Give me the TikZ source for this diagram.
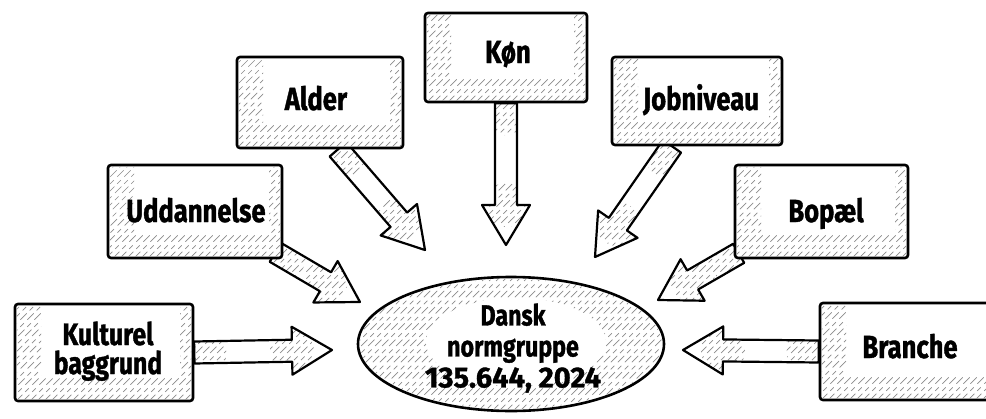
\documentclass[tikz,border=0pt]{standalone}
\usepackage{fontspec}
\setmainfont{Fira Sans}[FakeStretch=0.8, BoldFeatures={FakeBold=1.2}]
\newfontfamily\wideface{Fira Sans}[BoldFeatures={FakeBold=1.2}]
\usetikzlibrary{calc,shapes.geometric}
\pgfdeclarelayer{bg}
\pgfsetlayers{bg,main}

\tikzset{
  box/.style={rectangle, draw, fill=white, line width=2.6pt, rounded corners=3pt, inner sep=0pt},
  oval/.style={ellipse, draw, fill=white, line width=2.6pt, inner sep=0pt},
  lbl/.style={font=\bfseries\fontsize{32}{28}\selectfont, inner sep=0pt},
  lbltwo/.style={font=\bfseries\fontsize{31}{28}\selectfont, inner sep=0pt},
  ovallbl/.style={font=\bfseries\fontsize{29}{31}\selectfont, align=center, inner sep=0pt},
  hatchline/.style={draw=black!45, line width=0.7pt, dash pattern=on 9pt off 4pt on 5pt off 5pt},
  arrowline/.style={draw, line width=2.2pt, line join=round},
}

% diagonal hatch strokes x+y=c, c from #1 to #2, clipped between y=#3 and y=#4
\newcommand\hatchlines[4]{%
  \pgfmathtruncatemacro\hcA{#1}%
  \pgfmathtruncatemacro\hcB{#1+7}%
  \pgfmathtruncatemacro\hcC{#2}%
  \foreach \c in {\hcA,\hcB,...,\hcC}{\draw[hatchline] (\c-#4,#4) -- (\c-#3,#3);}}

% sketchy shading along the left, bottom and right inner edges of a box
\newcommand\boxhatch[4]{%
  \begin{scope}
    \clip (#1+1.5,#2+1.5) -- (#1+26,#2+1.5) -- (#1+26,#4-24) -- (#3-13,#4-24)
       -- (#3-13,#2+1.5) -- (#3-1.5,#2+1.5) -- (#3-1.5,#4-1.5) -- (#1+1.5,#4-1.5) -- cycle;
    \hatchlines{#1+#2}{#3+#4}{#2}{#4}
  \end{scope}}

% outlined block arrow from #1 to #2, hatch strokes c in [#3,#4]
\newcommand\blockarrow[4]{%
  \coordinate (ba-b)  at ($(#2)!40pt!(#1)$);
  \coordinate (ba-s1) at ($(#1)!11pt!90:(#2)$);
  \coordinate (ba-s2) at ($(#1)!11pt!-90:(#2)$);
  \coordinate (ba-b1) at ($(ba-b)!11pt!90:(#2)$);
  \coordinate (ba-b2) at ($(ba-b)!11pt!-90:(#2)$);
  \coordinate (ba-h1) at ($(ba-b)!24pt!90:(#2)$);
  \coordinate (ba-h2) at ($(ba-b)!24pt!-90:(#2)$);
  \fill[white] (ba-s1) -- (ba-b1) -- (ba-h1) -- (#2) -- (ba-h2) -- (ba-b2) -- (ba-s2) -- cycle;
  \begin{scope}
    \clip (ba-s1) -- (ba-b1) -- (ba-h1) -- (#2) -- (ba-h2) -- (ba-b2) -- (ba-s2) -- cycle;
    \clip (#1) circle[radius=32pt] (ba-b) circle[radius=22pt];
    \hatchlines{#3}{#4}{0}{418}
  \end{scope}
  \draw[arrowline] (ba-s1) -- (ba-b1) -- (ba-h1) -- (#2) -- (ba-h2) -- (ba-b2) -- (ba-s2) -- cycle;
}

\begin{document}
\begin{tikzpicture}[x=1pt, y=-1pt]
  \begin{pgfonlayer}{bg}
    \fill[white] (0,0) rectangle (986,418);
  \end{pgfonlayer}
  \useasboundingbox (0,0) rectangle (986,418);

  % boxes
  \node[box, minimum width=178pt, minimum height=97pt] (kult) at (104,352.5) {};
  \boxhatch{15}{304}{193}{401}
  \node[box, minimum width=174pt, minimum height=93pt] (udd) at (195,211.5) {};
  \boxhatch{108}{165}{282}{258}
  \node[box, minimum width=166pt, minimum height=91pt] (alder) at (320,102.5) {};
  \boxhatch{237}{57}{403}{148}
  \node[box, minimum width=162pt, minimum height=89pt] (kon) at (506,57.5) {};
  \boxhatch{425}{13}{587}{102}
  \node[box, minimum width=170pt, minimum height=88pt] (job) at (697,101) {};
  \boxhatch{612}{57}{782}{145}
  \node[box, minimum width=173pt, minimum height=93pt] (bop) at (821.5,211.5) {};
  \boxhatch{735}{165}{908}{258}
  \node[box, minimum width=190pt, minimum height=97pt] (bra) at (915,351.5) {};
  \boxhatch{820}{303}{1010}{400}

  % central ellipse
  \node[oval, minimum width=306pt, minimum height=134pt] (norm) at (511,344) {};
  \begin{scope}
    \clip (511,344) ellipse[x radius=151, y radius=65];
    \hatchlines{630}{1070}{277}{411}
    \fill[white] (516,342) ellipse[x radius=90, y radius=44];
  \end{scope}

  % labels
  \node[lbltwo, anchor=base] (kult-t1) at (108,345) {Kulturel};
  \node[lbltwo, anchor=base] (kult-t2) at (108,374) {baggrund};
  \node[lbl, anchor=base] (udd-t) at (196,222) {Uddannelse};
  \node[lbl, anchor=base] (alder-t) at (316,110) {Alder};
  \node[lbl, anchor=base] (kon-t) at (508,63) {Køn};
  \node[lbl, anchor=base] (job-t) at (701,110) {Jobniveau};
  \node[lbl, anchor=base] (bop-t) at (826,222) {Bopæl};
  \node[lbl, anchor=base] (bra-t) at (910,358) {Branche};
  \node[ovallbl] (norm-t) at (513,348) {Dansk\\normgruppe\\{\wideface 135.644, 2024}};

  % arrow tips
  \coordinate (kult-tip) at (332,350);
  \coordinate (udd-tip) at (360,302);
  \coordinate (alder-tip) at (425,250);
  \coordinate (kon-tip) at (506,245);
  \coordinate (job-tip) at (595,257);
  \coordinate (bop-tip) at (658,300);
  \coordinate (bra-tip) at (683,350);

  % block arrows beneath the boxes
  \begin{pgfonlayer}{bg}
    \blockarrow{kult.east}{kult-tip}{500}{720}
    \blockarrow{$(udd.south east)+(-8,-7)$}{udd-tip}{480}{690}
    \blockarrow{$(alder.south)+(18,0)$}{alder-tip}{450}{700}
    \blockarrow{kon.south}{kon-tip}{570}{790}
    \blockarrow{$(job.south)+(-25,0)$}{job-tip}{760}{920}
    \blockarrow{$(bop.south west)+(5,-6)$}{bop-tip}{880}{1040}
    \blockarrow{bra.west}{bra-tip}{990}{1210}
  \end{pgfonlayer}
\end{tikzpicture}
\end{document}
